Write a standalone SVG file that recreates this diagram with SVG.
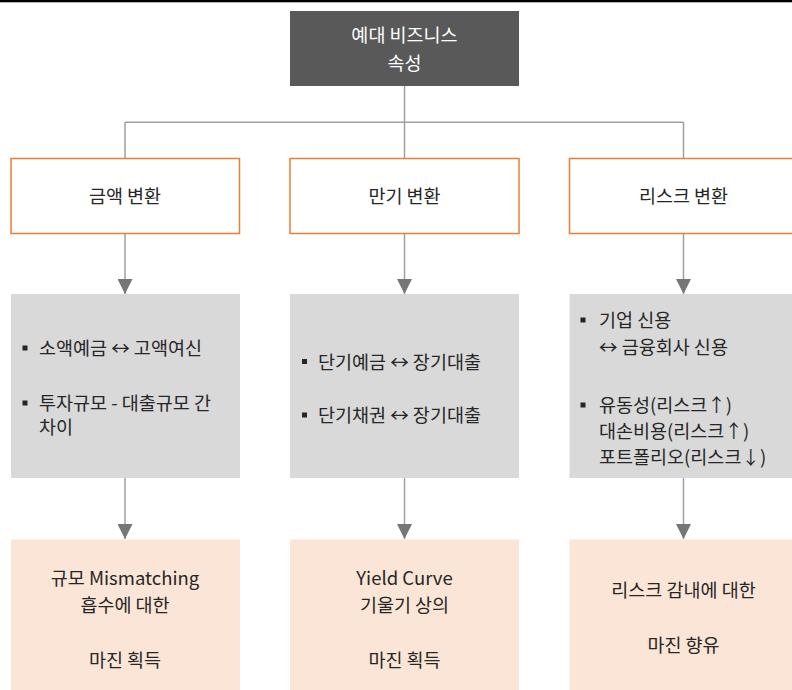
<svg xmlns="http://www.w3.org/2000/svg" width="792" height="690" viewBox="0 0 792 690">
  <style>
    text { font-family: "Noto Sans CJK KR", "Noto Sans", sans-serif; font-size: 18.5px; fill: #262626; }
    .c { text-anchor: middle; }
    .w { fill: #ffffff; }
    .orange { fill: #ffffff; stroke: #ED7D31; stroke-width: 1.5; }
    .gray { fill: #D9D9D9; }
    .peach { fill: #FBE5D6; }
    .ln { stroke: #A0A0A0; stroke-width: 1.5; fill: none; }
    .bul { fill: #262626; }
  </style>
  <defs>
    <marker id="arr" markerWidth="15" markerHeight="15" refX="15" refY="7.5" orient="auto" markerUnits="userSpaceOnUse">
      <path d="M0,0 L15,7.5 L0,15 Z" fill="#767676"/>
    </marker>
  </defs>
  <rect x="0" y="0" width="792" height="2.3" fill="#000000"/>

  <g id="connectors">
    <path class="ln" d="M404.5,86 V122.3 M125,122.3 H683.5 M125,122.3 V158 M404.5,122.3 V158 M683.5,122.3 V158"/>
    <path class="ln" d="M125,233 V294" marker-end="url(#arr)"/>
    <path class="ln" d="M404.5,233 V294" marker-end="url(#arr)"/>
    <path class="ln" d="M683.5,233 V294" marker-end="url(#arr)"/>
    <path class="ln" d="M125,478 V539" marker-end="url(#arr)"/>
    <path class="ln" d="M404.5,478 V539" marker-end="url(#arr)"/>
    <path class="ln" d="M683.5,478 V539" marker-end="url(#arr)"/>
  </g>

  <g id="root">
    <rect x="290" y="11" width="229" height="75" fill="#595959"/>
    <text class="c w" x="404.5" y="41.5">예대 비즈니스</text>
    <text class="c w" x="404.5" y="69.5">속성</text>
  </g>

  <g id="amount">
    <rect class="orange" x="11" y="158.5" width="228.5" height="75"/>
    <text class="c" x="125" y="202.5">금액 변환</text>
  </g>
  <g id="maturity">
    <rect class="orange" x="290" y="158.5" width="229" height="75"/>
    <text class="c" x="404.5" y="202.5">만기 변환</text>
  </g>
  <g id="risk">
    <rect class="orange" x="569.5" y="158.5" width="229" height="75"/>
    <text class="c" x="683.5" y="202.5">리스크 변환</text>
  </g>

  <g id="amount-detail">
    <rect class="gray" x="11" y="294" width="229" height="184"/>
    <rect class="bul" x="22.5" y="345.5" width="5" height="5"/>
    <text x="39" y="354.5">소액예금 ↔ 고액여신</text>
    <rect class="bul" x="22.5" y="400.5" width="5" height="5"/>
    <text x="39" y="409.5">투자규모 - 대출규모 간</text>
    <text x="39" y="433.5">차이</text>
  </g>
  <g id="maturity-detail">
    <rect class="gray" x="290" y="294" width="229" height="184"/>
    <rect class="bul" x="302" y="359" width="5" height="5"/>
    <text x="318" y="368.5">단기예금 ↔ 장기대출</text>
    <rect class="bul" x="302" y="412.5" width="5" height="5"/>
    <text x="318" y="421.5">단기채권 ↔ 장기대출</text>
  </g>
  <g id="risk-detail">
    <rect class="gray" x="569.5" y="294" width="229" height="184"/>
    <rect class="bul" x="580.5" y="317.5" width="5" height="5"/>
    <text x="599" y="326.5">기업 신용</text>
    <text x="599" y="353.5">↔ 금융회사 신용</text>
    <rect class="bul" x="580.5" y="402.5" width="5" height="5"/>
    <text x="599" y="411.5">유동성(리스크↑)</text>
    <text x="599" y="437.5">대손비용(리스크↑)</text>
    <text x="599" y="463.5">포트폴리오(리스크↓)</text>
  </g>

  <g id="amount-result">
    <rect class="peach" x="11" y="539.5" width="229" height="151"/>
    <text class="c" x="125" y="584.5">규모 Mismatching</text>
    <text class="c" x="125" y="611.5">흡수에 대한</text>
    <text class="c" x="125" y="666.5">마진 획득</text>
  </g>
  <g id="maturity-result">
    <rect class="peach" x="290" y="539.5" width="229" height="151"/>
    <text class="c" x="404.5" y="584.5">Yield Curve</text>
    <text class="c" x="404.5" y="611.5">기울기 상의</text>
    <text class="c" x="404.5" y="666.5">마진 획득</text>
  </g>
  <g id="risk-result">
    <rect class="peach" x="569.5" y="539.5" width="229" height="151"/>
    <text class="c" x="683.5" y="596.5">리스크 감내에 대한</text>
    <text class="c" x="683.5" y="651.5">마진 향유</text>
  </g>
</svg>
